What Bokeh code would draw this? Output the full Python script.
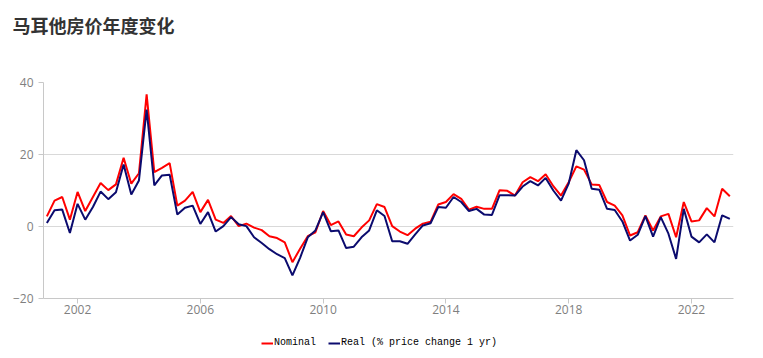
from bokeh.plotting import figure
from bokeh.layouts import column
from bokeh.models import Legend, LegendItem, FixedTicker, Range1d, Label, CustomJSTickFormatter
from bokeh.embed import file_html
from bokeh.resources import INLINE

title_text = "马耳他房价年度变化"
series_names = ["Nominal", "Real (% price change 1 yr)"]
series_colors = ["#ff0000", "#0b0b6e"]
first_year = 2001.0
year_ticks = [2002, 2006, 2010, 2014, 2018, 2022]
value_ticks = [-20, 0, 20, 40]

nominal = [2.8, 7.2, 8.2, 1.9, 9.6, 4.3, 8.2, 12.1, 10.1, 11.7,
           19.1, 11.9, 14.8, 36.7, 15.1, 16.3, 17.6, 5.8, 7.2, 9.6,
           4.0, 7.4, 1.9, 1.0, 2.9, 0.1, 0.8, -0.3, -1.0, -2.7,
           -3.2, -4.4, -9.9, -6.2, -2.7, -1.6, 4.3, 0.4, 1.4, -2.2,
           -2.7, -0.3, 1.7, 6.2, 5.4, 0.1, -1.4, -2.4, -0.6, 0.8,
           1.3, 6.1, 6.8, 9.0, 7.7, 4.7, 5.5, 4.9, 4.9, 10.1,
           9.9, 8.6, 12.3, 13.7, 12.6, 14.5, 11.2, 8.6, 12.3, 16.7,
           15.8, 11.7, 11.5, 6.8, 5.8, 3.1, -2.5, -1.6, 3.1, -1.1,
           2.8, 3.5, -3.0, 6.8, 1.4, 1.7, 5.1, 2.8, 10.5, 8.4]

real = [1.0, 4.5, 4.7, -1.8, 6.3, 1.9, 5.4, 9.7, 7.6, 9.5,
        17.2, 8.9, 12.8, 32.5, 11.4, 14.2, 14.4, 3.3, 5.2, 5.8,
        0.7, 4.0, -1.4, 0.1, 2.6, 0.6, 0.1, -3.0, -4.6, -6.3,
        -7.7, -8.8, -13.6, -8.7, -3.0, -1.1, 4.0, -1.3, -1.1, -6.0,
        -5.6, -3.0, -1.1, 4.5, 2.9, -4.1, -4.1, -4.8, -2.2, 0.3,
        0.9, 5.4, 5.2, 8.2, 6.8, 4.3, 4.9, 3.3, 3.2, 8.7,
        8.7, 8.6, 11.1, 12.6, 11.4, 13.5, 10.0, 7.2, 11.9, 21.2,
        18.4, 10.5, 10.2, 4.9, 4.6, 1.4, -3.9, -2.3, 2.9, -2.8,
        2.6, -2.0, -9.0, 4.9, -2.8, -4.4, -2.2, -4.4, 3.1, 2.1]

quarters = [first_year + 0.25 * i for i in range(len(nominal))]


def blank_figure(h):
    f = figure(width=763, height=h, output_backend="svg", toolbar_location=None,
               title_location=None, x_axis_type=None, y_axis_type=None,
               y_range=Range1d(0, h), min_border=0)
    f.grid.visible = False
    f.outline_line_color = None
    f.background_fill_color = "white"
    f.border_fill_color = "white"
    if "frame_align" in f.properties():
        f.frame_align = False
        f.x_range = Range1d(0, 763)
        f.tags = [0]
    else:
        f.x_range = Range1d(43, 733)
        f.tags = [43]
    return f


# title strip
t = blank_figure(42)
t.add_layout(Label(x=12, y=42 - 24, text=title_text, text_baseline="middle",
                   text_font="Noto Sans CJK SC", text_font_size="18px",
                   text_font_style="bold", text_color="#333333"))

# main chart
p = figure(width=763, height=283, output_backend="svg", toolbar_location=None,
           title_location=None,
           x_range=Range1d(2000.89, 2023.37), y_range=Range1d(-20, 40),
           min_border_left=43, min_border_right=30, min_border_top=40, min_border_bottom=27)
p.outline_line_color = None
p.background_fill_color = "white"
p.border_fill_color = "white"

p.line(quarters, nominal, line_color=series_colors[0], line_width=2)
p.line(quarters, real, line_color=series_colors[1], line_width=2)

p.xgrid.grid_line_color = None
p.ygrid.grid_line_color = "#d9d9d9"
p.ygrid.ticker = FixedTicker(ticks=value_ticks)

p.xaxis.ticker = FixedTicker(ticks=year_ticks)
p.xaxis.formatter = CustomJSTickFormatter(code="return String(Math.round(tick));")
p.yaxis.ticker = FixedTicker(ticks=value_ticks)

for ax in (p.xaxis[0], p.yaxis[0]):
    ax.axis_line_color = "#c8c8c8"
    ax.major_tick_line_color = "#c8c8c8"
    ax.minor_tick_line_color = None
    ax.major_tick_in = 0
    ax.major_tick_out = 5
    ax.major_label_text_font = "Open Sans"
    ax.major_label_text_font_size = "12px"
    ax.major_label_text_color = "#7f7f7f"
p.xaxis.major_label_standoff = 1
p.yaxis.major_label_standoff = 5

# legend strip (swatch renderers carry no visible data)
lg = blank_figure(33)
nan = float("nan")
r_nom = lg.line([nan], [nan], line_color=series_colors[0], line_width=2)
r_real = lg.line([nan], [nan], line_color=series_colors[1], line_width=2)
legend = Legend(items=[LegendItem(label=series_names[0], renderers=[r_nom]),
                       LegendItem(label=series_names[1], renderers=[r_real])],
                orientation="horizontal", location=(261 - lg.tags[0], 10),
                label_text_font="Liberation Mono", label_text_font_size="10px",
                label_text_color="#000000", glyph_width=12, glyph_height=10,
                label_standoff=1, spacing=12, padding=0, margin=0,
                border_line_alpha=0, background_fill_alpha=0)
lg.add_layout(legend, "center")

layout = column(t, p, lg, spacing=0)
open("out.html", "w").write(file_html(layout, INLINE))
